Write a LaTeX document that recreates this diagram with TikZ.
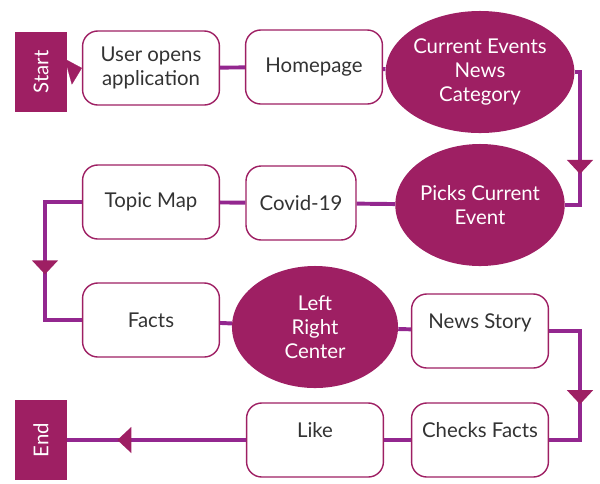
\documentclass[tikz,border=0pt]{standalone}
\usepackage{fontspec}
\setmainfont{Lato}
\usetikzlibrary{shapes.geometric,arrows.meta,decorations.markings}
\definecolor{plum}{RGB}{158,31,99}
\definecolor{flowline}{RGB}{147,39,143}

\begin{document}
\begin{tikzpicture}[x=0.025cm,y=-0.025cm,font=\fontsize{14.5}{17}\selectfont,
  box/.style={draw=plum,line width=1pt,rounded corners=0.38cm,fill=white,minimum width=3.42cm,minimum height=1.85cm,align=center,text=black!80,inner sep=1pt},
  raised/.style={text depth=14pt},
  blob/.style={ellipse,fill=plum,text=white,minimum width=4.15cm,minimum height=3.05cm,align=center,inner sep=0pt},
  term/.style={fill=plum,text=white,minimum width=2cm,minimum height=1.3cm,rotate=90},
  link/.style={draw=flowline,line width=2.8pt},
  midarrow/.style={postaction={decorate},decoration={markings,mark=at position #1 with {\arrow[plum]{Triangle[length=10pt,width=18pt]}}}}]
\useasboundingbox (0,0) rectangle (600,483);

\coordinate (rgt) at (580,0);
\coordinate (lft) at (45,0);

% first row
\node [term] (start) at (41,72) {Start};
\node [box] (user) at (151,68) {User opens\\application};
\node [box] (home) at (314,67) {Homepage};
\node [blob] (cur) at (480,72) {Current Events\\News\\Category};

% second row
\node [blob] (picks) at (480,205) {Picks Current\\Event};
\node [box,minimum width=2.75cm] (covid) at (301,203) {Covid-19};
\node [box] (topic) at (151,202) {Topic Map};

% third row
\node [box] (facts) at (151,320) {Facts};
\node [blob] (lrc) at (315,327) {Left\\Right\\Center};
\node [box,raised] (news) at (480,331) {News Story};

% last row
\node [box,raised] (checks) at (480,440) {Checks Facts};
\node [box,raised] (like) at (315,440) {Like};
\node [term] (finish) at (41,440) {End};

\draw[draw=plum,line width=0.1pt,-{Triangle[length=10pt,width=19pt]}] (start.south) -- (user.west);
\draw[link] (user) -- (home);
\draw[link] (home) -- (cur);
\draw[link,midarrow=0.7] (cur.east) -- (cur.east -| rgt) -- (picks.east -| rgt) -- (picks.east);
\draw[link] (picks) -- (covid);
\draw[link] (covid) -- (topic);
\draw[link,midarrow=0.57] (topic.west) -- (topic.west -| lft) -- (facts.west -| lft) -- (facts.west);
\draw[link] (facts) -- (lrc);
\draw[link] (lrc) -- (news);
\draw[link,midarrow=0.61] (news.east) -- (news.east -| rgt) -- (checks.east -| rgt) -- (checks.east);
\draw[link] (checks) -- (like);
\draw[link,midarrow=0.72] (like.west) -- (finish.south);

\end{tikzpicture}
\end{document}
